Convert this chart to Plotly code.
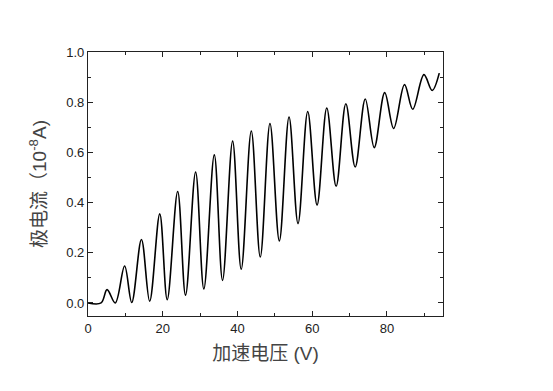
import plotly.graph_objects as go

# Extrema (accelerating voltage V, plate current 1e-8 A)
voltage = [0, 3.5, 5.1, 7.3, 9.8, 11.7, 14.3, 16.5, 19.2, 21.2, 24.0, 26.1, 28.8, 31.0,
           33.8, 36.0, 38.7, 41.0, 43.7, 46.1, 48.7, 51.2, 53.8, 56.2, 58.8, 61.3,
           63.9, 66.4, 69.0, 71.5, 74.2, 76.6, 79.4, 81.8, 84.7, 86.9, 89.9, 92.1, 94.0]
current = [0, 0, 0.053, 0.0, 0.147, 0.002, 0.253, 0.007, 0.355, 0.013, 0.444, 0.031,
           0.522, 0.056, 0.59, 0.09, 0.645, 0.134, 0.685, 0.183, 0.715, 0.247, 0.741,
           0.316, 0.763, 0.39, 0.777, 0.465, 0.794, 0.542, 0.813, 0.619, 0.838, 0.695,
           0.87, 0.772, 0.91, 0.847, 0.916]

x_title = "加速电压 (V)"
y_title = "极电流（10<sup>-8</sup>A)"

fig = go.Figure(go.Scatter(
    x=voltage, y=current, mode="lines",
    line=dict(color="black", width=1.6, shape="spline", smoothing=1.0),
    hoverinfo="skip",
))

font_main = "Liberation Sans, Arial, Noto Sans CJK SC, sans-serif"
axis_common = dict(
    showline=True, linecolor="#222", linewidth=1.2, mirror="allticks",
    ticks="inside", ticklen=5, tickwidth=1, tickcolor="#222",
    showgrid=False, zeroline=False,
    tickfont=dict(family=font_main, size=13, color="#222"),
)

fig.update_xaxes(
    range=[0, 95], tick0=0, dtick=20,
    minor=dict(dtick=10, ticks="inside", ticklen=3, tickcolor="#222", showgrid=False),
    title=dict(text=x_title, font=dict(family=font_main, size=19, color="#444"), standoff=11),
    **axis_common,
)
fig.update_yaxes(
    range=[-0.052, 1.0], tick0=0, dtick=0.2, tickformat=".1f",
    minor=dict(dtick=0.1, ticks="inside", ticklen=3, tickcolor="#222", showgrid=False),
    title=dict(text=y_title, font=dict(family=font_main, size=19, color="#444"), standoff=14),
    **axis_common,
)

fig.update_layout(
    width=545, height=383,
    margin=dict(l=80, r=110, t=44, b=75),
    paper_bgcolor="white", plot_bgcolor="white",
    showlegend=False,
)

fig.write_html("out.html")
